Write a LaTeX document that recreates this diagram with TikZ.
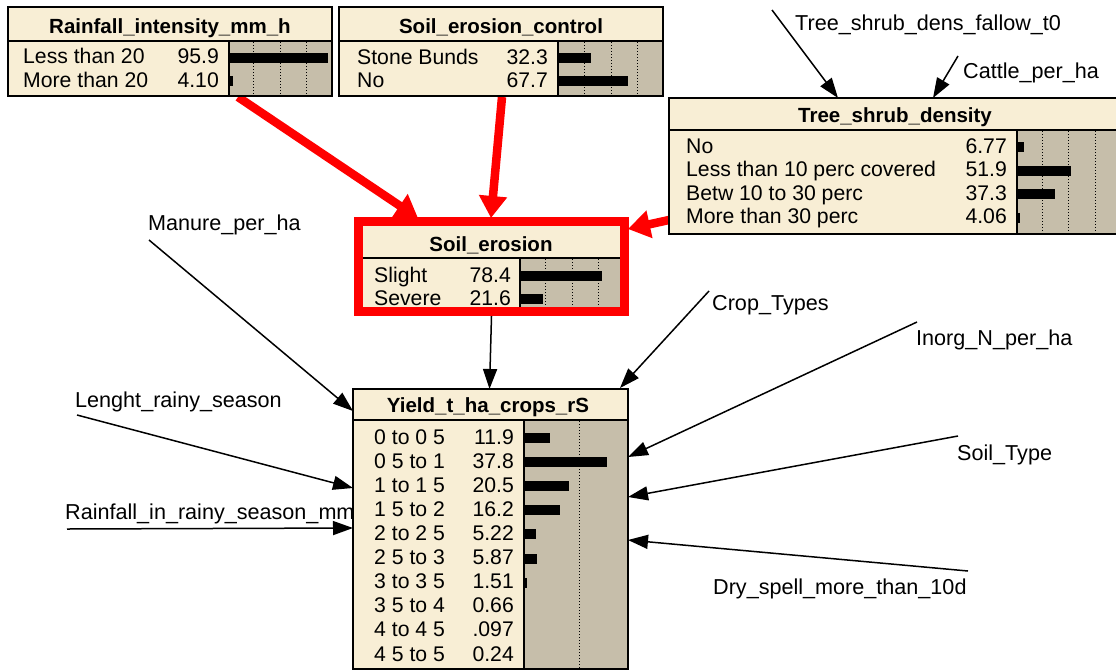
\documentclass[tikz,border=0pt]{standalone}
\usepackage{fontspec}
\setmainfont{Liberation Sans}
\usetikzlibrary{arrows.meta}
\definecolor{nodecream}{RGB}{248,238,213}
\definecolor{beliefgray}{RGB}{198,190,170}
\definecolor{alertred}{RGB}{255,0,0}
\pgfdeclarelayer{background}
\pgfsetlayers{background,main}

\tikzset{
  bnbox/.style={fill=nodecream, inner sep=0pt, outer sep=0pt, draw=none},
  bnborder/.style={draw=black, line width=2pt},
  sepline/.style={draw=black, line width=1.6pt},
  gridline/.style={draw=black, line width=1pt, dash pattern=on 1.2pt off 1.8pt},
  titletext/.style={font=\fontsize{20.5}{24}\selectfont\bfseries, anchor=base, inner sep=0pt},
  rowtext/.style={font=\fontsize{21.2}{25}\selectfont, anchor=base west, inner sep=0pt},
  valtext/.style={font=\fontsize{21.2}{25}\selectfont, anchor=base east, inner sep=0pt},
  vartext/.style={font=\fontsize{21.6}{25}\selectfont, anchor=base west, inner sep=0pt},
  beliefbar/.style={fill=black},
  link/.style={draw=black, line width=1.5pt, -{Triangle[length=20pt,width=14pt]}},
  hotlink/.style={draw=alertred, line width=8.5pt, -{Triangle[length=22pt,width=27pt]}},
  hotframe/.style={draw=alertred, line width=9pt},
}

% node body: name, left, top, width, height, title height, bar offset
\newcommand\bnframe[7]{%
  \node[bnbox, minimum width=#4pt, minimum height=#5pt, anchor=north west] (#1) at (#2,#3) {};
  \fill[beliefgray] (#2+#7,#3+#6) rectangle (#2+#4,#3+#5);
  \draw[sepline] (#2,#3+#6) -- (#2+#4,#3+#6);
  \draw[sepline] (#2+#7,#3+#6) -- (#2+#7,#3+#5);
}
% state row: label x, value right x, baseline, label, value, bar x, bar length, name
\newcommand\bnrow[8]{%
  \node[rowtext] (#8l) at (#1,#3) {#4};
  \node[valtext] (#8v) at (#2,#3) {#5};
  \fill[beliefbar] (#6,#3-11) rectangle (#6+#7,#3-1);
}

\begin{document}
\begin{tikzpicture}[x=1pt,y=-1pt]
\useasboundingbox (0,0) rectangle (1116,670);

% ---------- Rainfall_intensity_mm_h ----------
\bnframe{rain}{8}{7}{324}{89}{34}{221}
\foreach \gx in {253,280,306} \draw[gridline] (\gx,42) -- (\gx,95);
\node[titletext] (rainT) at (170,33) {Rainfall\_intensity\_mm\_h};
\bnrow{23}{219}{63.5}{Less than 20}{95.9}{229}{98.8}{rainA}
\bnrow{23}{219}{87}{More than 20}{4.10}{229}{4.2}{rainB}
\draw[bnborder] (rain.north west) rectangle (rain.south east);

% ---------- Soil_erosion_control ----------
\bnframe{control}{339}{7}{324}{89}{34}{219}
\foreach \gx in {584,611,637} \draw[gridline] (\gx,42) -- (\gx,95);
\node[titletext] (controlT) at (501,33) {Soil\_erosion\_control};
\bnrow{357}{548}{64}{Stone Bunds}{32.3}{558}{33.3}{controlA}
\bnrow{357}{548}{87}{No}{67.7}{558}{69.7}{controlB}
\draw[bnborder] (control.north west) rectangle (control.south east);

% ---------- Tree_shrub_density ----------
\bnframe{tree}{669}{98}{453}{136}{32}{348}
\foreach \gx in {1042,1068,1095} \draw[gridline] (\gx,131) -- (\gx,233);
\node[titletext] (treeT) at (895,122) {Tree\_shrub\_density};
\bnrow{686}{1007}{153}{No}{6.77}{1017}{7}{treeA}
\bnrow{686}{1007}{176.5}{Less than 10 perc covered}{51.9}{1017}{53.5}{treeB}
\bnrow{686}{1007}{200}{Betw 10 to 30 perc}{37.3}{1017}{38.4}{treeC}
\bnrow{686}{1007}{223.5}{More than 30 perc}{4.06}{1017}{2.5}{treeD}
\draw[bnborder] (tree.north west) rectangle (tree.south east);

% ---------- Soil_erosion (highlighted) ----------
\bnframe{erosion}{363}{226}{257}{82}{32}{157}
\foreach \gx in {545,572,598} \draw[gridline] (\gx,259) -- (\gx,307);
\node[titletext] (erosionT) at (491,251) {Soil\_erosion};
\bnrow{374}{511}{282}{Slight}{78.4}{520}{81.5}{erosionA}
\bnrow{374}{511}{305}{Severe}{21.6}{520}{22.5}{erosionB}
\draw[hotframe] (358.5,221.5) rectangle (624.5,311.5);

% ---------- Yield_t_ha_crops_rS ----------
\bnframe{yield}{353}{389}{275}{280}{31}{171}
\draw[gridline] (579,421) -- (579,668);
\node[titletext] (yieldT) at (488,412) {Yield\_t\_ha\_crops\_rS};
\bnrow{374}{514}{444}{0 to 0 5}{11.9}{524}{26.2}{yA}
\bnrow{374}{514}{468.1}{0 5 to 1}{37.8}{524}{83.2}{yB}
\bnrow{374}{514}{492.2}{1 to 1 5}{20.5}{524}{45.1}{yC}
\bnrow{374}{514}{516.3}{1 5 to 2}{16.2}{524}{35.6}{yD}
\bnrow{374}{514}{540.4}{2 to 2 5}{5.22}{524}{11.5}{yE}
\bnrow{374}{514}{564.5}{2 5 to 3}{5.87}{524}{12.9}{yF}
\bnrow{374}{514}{588.6}{3 to 3 5}{1.51}{524}{3.3}{yG}
\bnrow{374}{514}{612.7}{3 5 to 4}{0.66}{524}{1.4}{yH}
\bnrow{374}{514}{636.8}{4 to 4 5}{.097}{524}{0.2}{yI}
\bnrow{374}{514}{661}{4 5 to 5}{0.24}{524}{0.5}{yJ}
\draw[bnborder] (yield.north west) rectangle (yield.south east);

% ---------- variable names and links (under the nodes) ----------
\begin{pgfonlayer}{background}
  \fill[white] (0,0) rectangle (1116,670);
  \node[vartext] (fallow) at (795,30) {Tree\_shrub\_dens\_fallow\_t0};
  \node[vartext] (cattle) at (963,78) {Cattle\_per\_ha};
  \node[vartext] (manure) at (148,230) {Manure\_per\_ha};
  \node[vartext] (crop) at (712,310) {Crop\_Types};
  \node[vartext] (inorg) at (916,345) {Inorg\_N\_per\_ha};
  \node[vartext] (soiltype) at (957,460) {Soil\_Type};
  \node[vartext] (dryspell) at (713,594) {Dry\_spell\_more\_than\_10d};
  \node[vartext] (season) at (75,407) {Lenght\_rainy\_season};
  \node[vartext] (rainseason) at (65,519) {Rainfall\_in\_rainy\_season\_mm};

  \coordinate (fallowS) at (772,10);
  \coordinate (cattleS) at (958,56);
  \coordinate (manureS) at (149,240);
  \coordinate (cropS) at (709,291);
  \coordinate (inorgS) at (917,322);
  \coordinate (soiltypeS) at (958,436);
  \coordinate (dryspellS) at (968,571);
  \coordinate (seasonS) at (77,415);
  \coordinate (rainseasonS) at (67,529);

  \draw[link] (fallowS) -- ([xshift=169pt]tree.north west);
  \draw[link] (cattleS) -- ([xshift=264pt]tree.north west);
  \draw[link] (manureS) -- ([yshift=-22pt]yield.north west);
  \draw[link] ([yshift=-8pt]erosion.south) -- ([xshift=-1pt]yield.north);
  \draw[link] (cropS) -- ([xshift=-8pt,yshift=1pt]yield.north east);
  \draw[link] (inorgS) -- ([yshift=-68pt]yield.north east);
  \draw[link] (soiltypeS) -- ([yshift=-108pt]yield.north east);
  \draw[link] (dryspellS) -- ([yshift=-151pt]yield.north east);
  \draw[link] (seasonS) -- ([yshift=-99pt]yield.north west);
  \draw[link] (rainseasonS) -- ([yshift=-139pt]yield.north west);

  \draw[hotlink] ([xshift=230pt,yshift=-1pt]rain.south west) -- ([xshift=55pt,yshift=8pt]erosion.north west);
  \draw[hotlink] ([xshift=163pt,yshift=-1pt]control.south west) -- ([xshift=128pt,yshift=8pt]erosion.north west);
  \draw[hotlink] ([yshift=-122pt]tree.north west) -- ([xshift=8pt,yshift=-3pt]erosion.north east);
\end{pgfonlayer}
\end{tikzpicture}
\end{document}
